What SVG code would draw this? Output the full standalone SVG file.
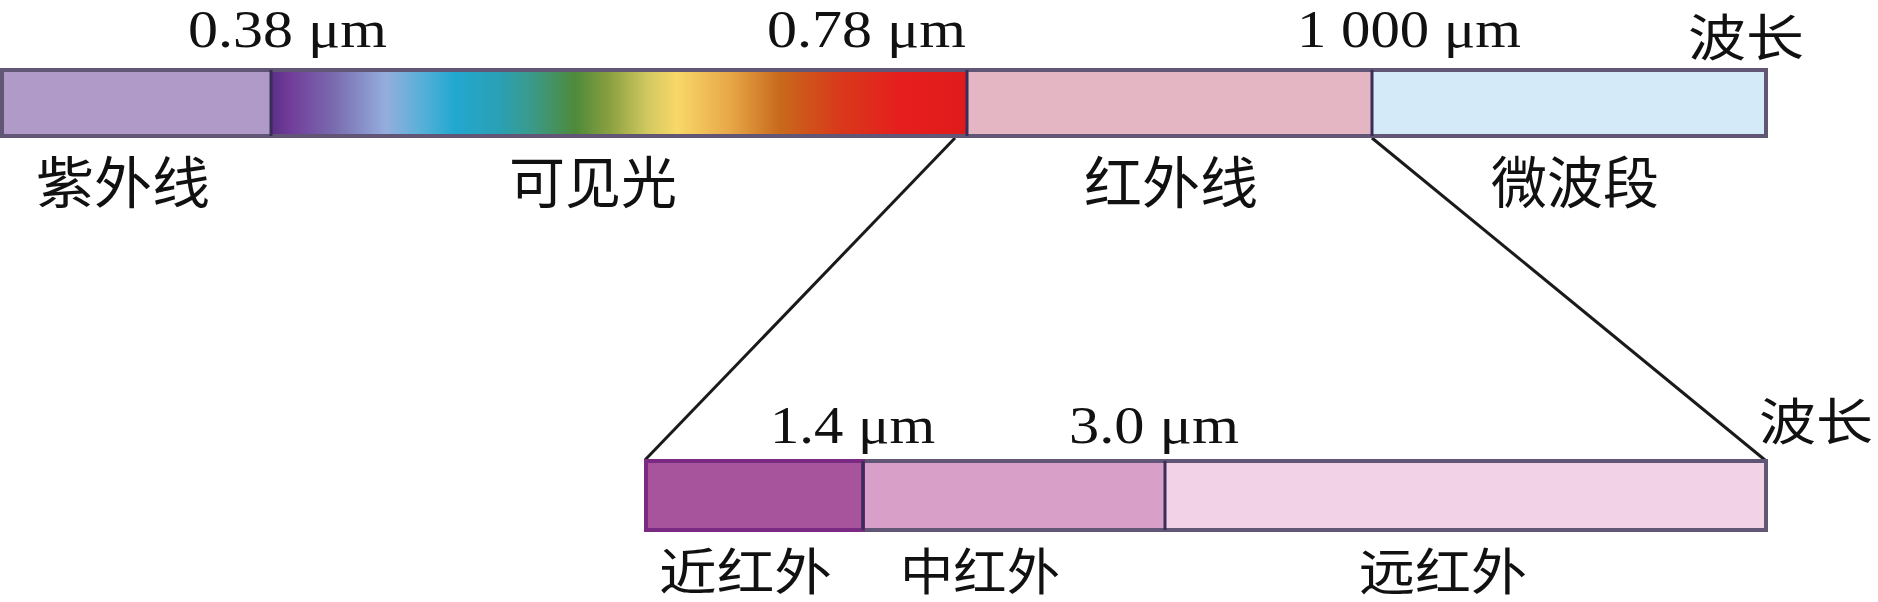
<svg xmlns="http://www.w3.org/2000/svg" width="1878" height="602" viewBox="0 0 1878 602">
<style>
.num{font-family:"Liberation Serif","Times New Roman",serif;font-size:52px;fill:#111}
.cjk{font-family:"Noto Sans CJK SC","Noto Sans CJK JP",sans-serif;font-size:56px;fill:#111}
.cjs{font-family:"Noto Sans CJK SC","Noto Sans CJK JP",sans-serif;font-size:50px;fill:#111}
.frame{fill:none;stroke:#625677;stroke-width:4}
.sep{stroke:#3a2d57;stroke-width:3}
.conn{stroke:#1a1a1a;stroke-width:3;fill:none}
</style>
<defs>
<linearGradient id="spec" gradientUnits="userSpaceOnUse" x1="271" y1="0" x2="967" y2="0">
<stop offset="0" stop-color="#5a2f86"/>
<stop offset="0.027" stop-color="#713c9a"/>
<stop offset="0.092" stop-color="#7a6cb0"/>
<stop offset="0.165" stop-color="#94aedd"/>
<stop offset="0.214" stop-color="#5ab0d8"/>
<stop offset="0.264" stop-color="#22a8d0"/>
<stop offset="0.329" stop-color="#2aa0b4"/>
<stop offset="0.376" stop-color="#3a9a88"/>
<stop offset="0.437" stop-color="#4e8a3a"/>
<stop offset="0.487" stop-color="#8aa040"/>
<stop offset="0.540" stop-color="#d0c860"/>
<stop offset="0.583" stop-color="#f8d868"/>
<stop offset="0.659" stop-color="#e8a848"/>
<stop offset="0.730" stop-color="#c86a1c"/>
<stop offset="0.815" stop-color="#d83a1a"/>
<stop offset="0.904" stop-color="#e61e1e"/>
<stop offset="1" stop-color="#e01a1a"/>
</linearGradient>
</defs>
<rect width="1878" height="602" fill="#fff"/>

<g id="connectors">
<line class="conn" x1="955" y1="138" x2="645" y2="460"/>
<line class="conn" x1="1372" y1="138" x2="1765" y2="460"/>
</g>

<g id="top-bar">
<g id="uv"><rect x="2" y="70" width="269" height="66" fill="#b09ac8"/>
<text class="cjk" x="36" y="203" textLength="174" lengthAdjust="spacingAndGlyphs">紫外线</text></g>
<g id="visible"><rect x="271" y="70" width="696" height="66" fill="url(#spec)"/>
<text class="cjk" x="509" y="203" textLength="168" lengthAdjust="spacingAndGlyphs">可见光</text></g>
<g id="infrared"><rect x="967" y="70" width="405" height="66" fill="#e4b6c4"/>
<text class="cjk" x="1084" y="203" textLength="174" lengthAdjust="spacingAndGlyphs">红外线</text></g>
<g id="microwave"><rect x="1372" y="70" width="394" height="66" fill="#d4eaf8"/>
<text class="cjk" x="1491" y="203" textLength="168" lengthAdjust="spacingAndGlyphs">微波段</text></g>
<rect class="frame" x="2" y="70" width="1764" height="66"/>
<line class="sep" x1="271" y1="70" x2="271" y2="136"/>
<line class="sep" x1="967" y1="70" x2="967" y2="136"/>
<line class="sep" x1="1372" y1="70" x2="1372" y2="136"/>
<text class="num" x="188" y="47" textLength="199" lengthAdjust="spacingAndGlyphs">0.38 μm</text>
<text class="num" x="767" y="47" textLength="199" lengthAdjust="spacingAndGlyphs">0.78 μm</text>
<text class="num" x="1297" y="47" textLength="224" lengthAdjust="spacingAndGlyphs">1 000 μm</text>
<text class="cjs" x="1688" y="56" font-size="48" textLength="116" lengthAdjust="spacingAndGlyphs">波长</text>
</g>

<g id="bottom-bar">
<g id="near-ir"><rect x="646" y="461" width="217" height="69" fill="#a8549c"/>
<text class="cjs" x="659" y="590" textLength="173" lengthAdjust="spacingAndGlyphs">近红外</text></g>
<g id="mid-ir"><rect x="863" y="461" width="302" height="69" fill="#d8a0c8"/>
<text class="cjs" x="900" y="590" textLength="160" lengthAdjust="spacingAndGlyphs">中红外</text></g>
<g id="far-ir"><rect x="1165" y="461" width="601" height="69" fill="#f2d2e6"/>
<text class="cjs" x="1359" y="590" textLength="168" lengthAdjust="spacingAndGlyphs">远红外</text></g>
<rect class="frame" x="646" y="461" width="1120" height="69"/>
<rect x="646" y="461" width="217" height="69" fill="none" stroke="#7a2a82" stroke-width="4"/>
<line class="sep" x1="863" y1="461" x2="863" y2="530"/>
<line class="sep" x1="1165" y1="461" x2="1165" y2="530"/>
<text class="num" x="770" y="443" textLength="165" lengthAdjust="spacingAndGlyphs">1.4 μm</text>
<text class="num" x="1069" y="443" textLength="170" lengthAdjust="spacingAndGlyphs">3.0 μm</text>
<text class="cjs" x="1759" y="440" textLength="114" lengthAdjust="spacingAndGlyphs">波长</text>
</g>
</svg>
